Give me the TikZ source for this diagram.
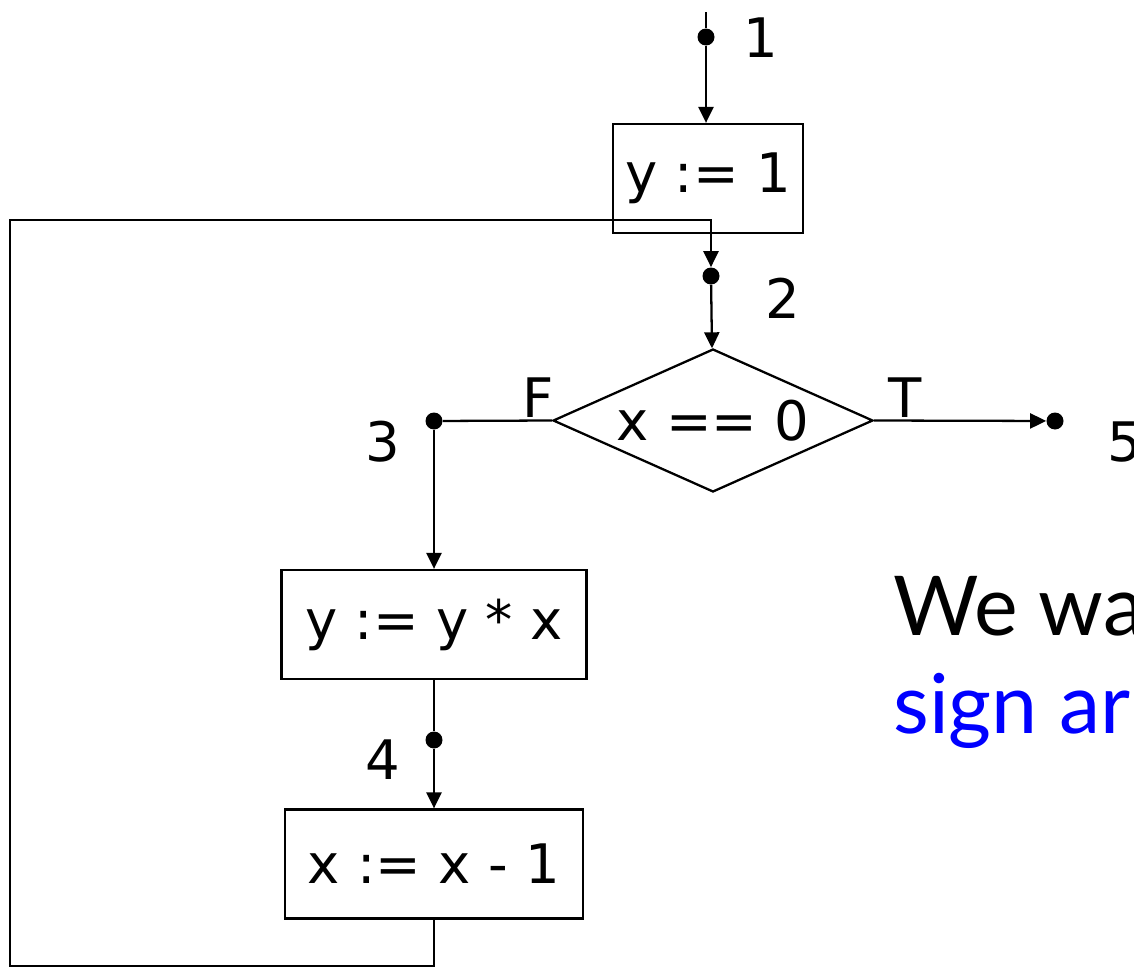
\documentclass[tikz,border=0pt]{standalone}
\usepackage{fontspec}
\setmainfont{DejaVu Sans}
\newfontfamily\slidefont{Lato}
\usepackage{tikz}
\usetikzlibrary{positioning, arrows.meta, shapes.geometric}
\definecolor{slideblue}{HTML}{0000FF}

\begin{document}
\begin{tikzpicture}[x=0.02cm, y=-0.02cm,
    every node/.style={font=\fontsize{31}{37}\selectfont},
    stmt/.style={draw, line width=1.3pt, minimum height=2.18cm, inner sep=0pt},
    test/.style={draw, diamond, aspect=2.24, line width=1.3pt, minimum width=6.4cm, minimum height=2.86cm, inner sep=0pt},
    pt/.style={circle, fill, inner sep=0pt, minimum size=0.34cm},
    lbl/.style={inner sep=0pt},
    flow/.style={line width=1.3pt},
    arrow/.style={flow, -{Triangle[length=0.32cm, width=0.3cm]}},
    note/.style={font=\slidefont\fontsize{47}{56}\selectfont, anchor=base west, inner sep=0pt}
]
  \useasboundingbox (0,0) rectangle (1134,967);

  % program points
  \coordinate (entry) at (706,12);
  \node[pt] (p1) at (706,37) {};
  \node[pt] (p2) at (711,276) {};
  \node[pt] (p3) at (434,421) {};
  \node[pt] (p4) at (434,740) {};
  \node[pt] (p5) at (1055,421) {};

  \node[lbl] (l1) at (761,38) {1};
  \node[lbl] (l2) at (783,298) {2};
  \node[lbl] (l3) at (383,442) {3};
  \node[lbl] (l4) at (383,760) {4};
  \node[lbl] (l5) at (1125,442) {5};

  % statements
  \node[stmt, minimum width=3.8cm] (init) at (708,178.5) {\raisebox{-0.1cm}{y := 1}};
  \node[test] (cond) at (713,420.5) {\raisebox{-0.22cm}{x == 0}};
  \node[stmt, minimum width=6.1cm] (mul) at (434,624.5) {\raisebox{-0.1cm}{y := y * x}};
  \node[stmt, minimum width=5.96cm] (dec) at (434,864) {\raisebox{-0.1cm}{x := x - 1}};

  \node[lbl] (lf) at (538,398) {F};
  \node[lbl] (lt) at (905,398) {T};

  % loop back edge
  \coordinate (loopbl) at (10,966);
  \coordinate (looptl) at (10,220);
  \coordinate (looptr) at (711,220);

  \draw[flow] (entry) -- (p1);
  \draw[arrow] (p1) -- (p1 |- init.north);
  \draw[arrow] (p2) -- (cond);
  \draw[flow] (cond.west) -- (p3);
  \draw[arrow] (cond.east) -- (p5);
  \draw[arrow] (p3) -- (mul);
  \draw[flow] (mul.south) -- (p4);
  \draw[arrow] (p4) -- (dec);
  \draw[arrow] (dec.south) -- (dec.south |- loopbl) -- (loopbl) -- (looptl) -- (looptr) -- (p2);

  % side remark
  \node[note] (say1) at (893,635) {We wa};
  \node[note, text=slideblue] (say2) at (893,733) {sign ar};
\end{tikzpicture}
\end{document}
